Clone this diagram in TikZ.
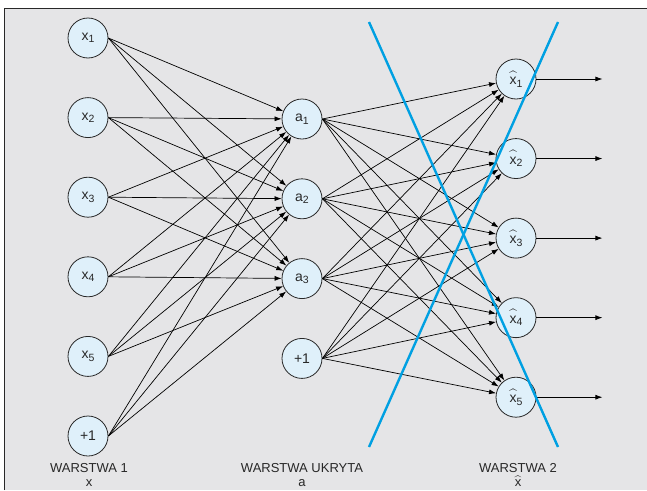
\documentclass[tikz,border=0pt]{standalone}
\usepackage{amsmath}
\usepackage{fontspec}
\setmainfont{Liberation Sans}
\usetikzlibrary{arrows.meta,positioning}
\definecolor{panelgray}{RGB}{229,229,231}
\definecolor{unitfill}{RGB}{223,240,250}
\definecolor{crossblue}{RGB}{0,160,226}
\definecolor{inkgray}{RGB}{40,40,40}
\newcommand{\low}[1]{\raisebox{-2.6pt}{\fontsize{10.5}{11}\selectfont #1}}
\newcommand{\hatx}{$\widehat{\vphantom{X}\text{x}}$}
\newcommand{\xin}[1]{x\low{#1}}
\newcommand{\hid}[1]{a\low{#1}}
\newcommand{\xout}[1]{\hatx\low{#1}}

\begin{document}
\begin{tikzpicture}[
  font=\fontsize{13}{15}\selectfont,
  unit/.style={draw=inkgray, line width=0.8pt, fill=unitfill, circle, minimum size=40pt, inner sep=0pt, text=inkgray,
    font=\fontsize{14}{15}\selectfont},
  link/.style={line width=0.7pt, -{Latex[length=7pt,width=5pt]}},
  layername/.style={anchor=base, text=inkgray}
]
\useasboundingbox (0,0) rectangle (647pt,-490pt);
\fill[panelgray] (4pt,-8pt) rectangle (647pt,-490pt);
\draw[inkgray, line width=0.8pt] (4pt,-490pt) -- (4pt,-8pt) -- (647pt,-8pt);

% input layer
\node[unit] (x1) at (88pt,-38pt) {\xin1};
\node[unit, below=38.8pt of x1] (x2) {\xin2};
\node[unit, below=38.8pt of x2] (x3) {\xin3};
\node[unit, below=38.8pt of x3] (x4) {\xin4};
\node[unit, below=38.8pt of x4] (x5) {\xin5};
\node[unit, below=38.8pt of x5] (b1) {+1};

% hidden layer
\node[unit] (a1) at (302pt,-119pt) {\hid1};
\node[unit, below=39pt of a1] (a2) {\hid2};
\node[unit, below=39pt of a2] (a3) {\hid3};
\node[unit, below=39pt of a3] (b2) {+1};

% output layer
\node[unit] (h1) at (516pt,-79pt) {\xout1};
\node[unit, below=38.75pt of h1] (h2) {\xout2};
\node[unit, below=38.75pt of h2] (h3) {\xout3};
\node[unit, below=38.75pt of h3] (h4) {\xout4};
\node[unit, below=38.75pt of h4] (h5) {\xout5};

% weights
\foreach \s in {x1,x2,x3,x4,x5,b1}
  \foreach \t in {a1,a2,a3}
    \draw[link] (\s.east) -- (\t);
\foreach \s in {a1,a2,a3,b2}
  \foreach \t in {h1,h2,h3,h4,h5}
    \draw[link] (\s.east) -- (\t);
\foreach \i in {1,...,5} {
  \coordinate[right=66pt of h\i.east] (y\i);
  \draw[link] (h\i.east) -- (y\i);
}

% crossed-out output layer
\coordinate (c1) at (369pt,-22pt);
\coordinate (c2) at (558pt,-22pt);
\coordinate (c3) at (369pt,-447pt);
\coordinate (c4) at (558pt,-447pt);
\draw[crossblue, line width=2.4pt] (c1) -- (c4);
\draw[crossblue, line width=2.4pt] (c2) -- (c3);

% layer names
\node[layername] (n1) at (89pt,-472.6pt) {WARSTWA 1};
\node[layername] (s1) at ([yshift=-14pt]n1.base) {x};
\node[layername] (n2) at (302pt,-472.6pt) {WARSTWA UKRYTA};
\node[layername] (s2) at ([yshift=-14pt]n2.base) {a};
\node[layername] (n3) at (518pt,-472.6pt) {WARSTWA 2};
\node[layername] (s3) at ([yshift=-14pt]n3.base) {$\widehat{\text{x}}$};
\end{tikzpicture}
\end{document}
